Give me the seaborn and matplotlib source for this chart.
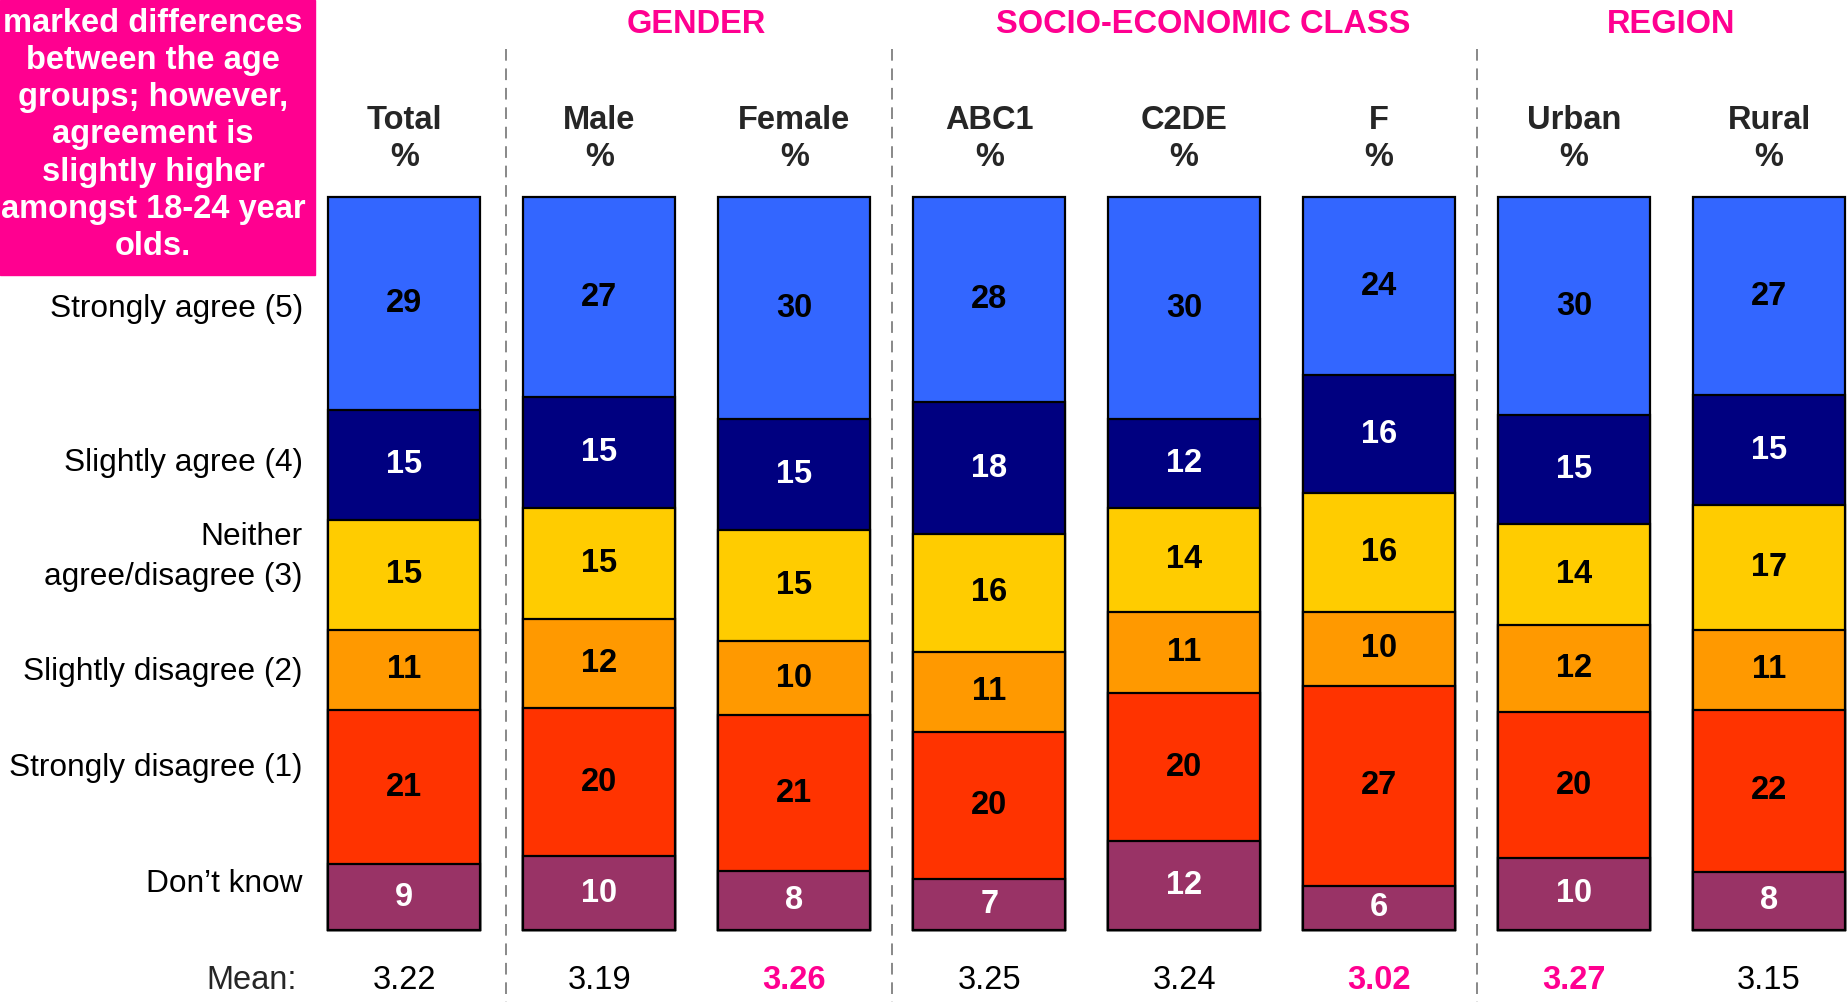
import numpy as np
import pandas as pd
import matplotlib
matplotlib.use("Agg")
import matplotlib.pyplot as plt
import seaborn as sns

# ---- data -------------------------------------------------------------
columns = ["Total", "Male", "Female", "ABC1", "C2DE", "F", "Urban", "Rural"]
groups = ["GENDER", "SOCIO-ECONOMIC CLASS", "REGION"]

# bottom to top
answers = ["Don\u2019t know", "Strongly disagree (1)", "Slightly disagree (2)",
           "Neither\nagree/disagree (3)", "Slightly agree (4)", "Strongly agree (5)"]
dont_know = [9, 10, 8, 7, 12, 6, 10, 8]
strongly_disagree = [21, 20, 21, 20, 20, 27, 20, 22]
slightly_disagree = [11, 12, 10, 11, 11, 10, 12, 11]
neither = [15, 15, 15, 16, 14, 16, 14, 17]
slightly_agree = [15, 15, 15, 18, 12, 16, 15, 15]
strongly_agree = [29, 27, 30, 28, 30, 24, 30, 27]

means = ["3.22", "3.19", "3.26", "3.25", "3.24", "3.02", "3.27", "3.15"]
mean_highlight = [False, False, True, False, False, True, True, False]

note = ("marked differences\nbetween the age\ngroups; however,\nagreement is\n"
        "slightly higher\namongst 18-24 year\nolds.")

# ---- styling ----------------------------------------------------------
seg_colors = ["#993366", "#FF3300", "#FF9900", "#FFCC00", "#000080", "#3366FF"]
txt_colors = ["white", "black", "black", "black", "white", "black"]
PINK = "#FF0090"
FS = 23.5

sns.set_style("white")
plt.rcParams["font.family"] = ["Liberation Sans", "DejaVu Sans"]

segments = np.array([dont_know, strongly_disagree, slightly_disagree,
                     neither, slightly_agree, strongly_agree], dtype=float)
shares = segments / segments.sum(axis=0) * 100
cum = np.cumsum(shares, axis=0)

fig = plt.figure(figsize=(18.48, 10.02), dpi=100)
ax = fig.add_axes([0, 0, 1, 1])

# stacked bars: draw cumulative totals from the top layer down
for k in range(len(answers) - 1, -1, -1):
    df = pd.DataFrame({"col": columns, "cum": cum[k]})
    sns.barplot(data=df, x="col", y="cum", order=columns, color=seg_colors[k],
                saturation=1, edgecolor="black", linewidth=1.6, width=0.78,
                ax=ax)

# value labels
for k in range(len(answers)):
    for i in range(len(columns)):
        mid = cum[k, i] - shares[k, i] / 2
        ax.text(i, mid, str(int(segments[k, i])), ha="center", va="center",
                fontsize=FS, fontweight="bold", color=txt_colors[k])

# row labels on the left
label_y = [6.3, 22.1, 35.2, 50.9, 63.8, 84.7]
for lab, y in zip(answers, label_y):
    ax.text(-0.52, y, lab, ha="right", va="center", fontsize=22.8,
            linespacing=1.4, color="black")

# column headers
for i, c in enumerate(columns):
    ax.text(i, 110.4, c, ha="center", va="center", fontsize=FS,
            fontweight="bold")
    ax.text(i, 105.4, "%", ha="center", va="center", fontsize=FS,
            fontweight="bold")

# group headers
group_x = [1.5, 4.1, 6.5]
for g, gx in zip(groups, group_x):
    ax.text(gx, 123.6, g, ha="center", va="center", fontsize=FS,
            fontweight="bold", color=PINK)

# dashed separators
for sx in [0.52, 2.5, 5.5]:
    ax.plot([sx, sx], [120.2, -12], color="#888888", lw=1.4,
            linestyle=(0, (6, 4)))

# mean row
ax.text(-0.55, -6.8, "Mean:", ha="right", va="center", fontsize=FS)
for i, (m, h) in enumerate(zip(means, mean_highlight)):
    ax.text(i, -6.8, m, ha="center", va="center", fontsize=FS,
            color=PINK if h else "black", fontweight="bold" if h else "normal")

# pink note box in the corner
fig.patches.append(plt.Rectangle((0, 1 - 275 / 1002), 315 / 1848, 275 / 1002,
                                 transform=fig.transFigure, color=PINK,
                                 zorder=5))
fig.text(153 / 1848, 1 - 135 / 1002, note, ha="center", va="center",
         fontsize=FS, fontweight="bold", color="white", linespacing=1.26,
         zorder=6)

ax.set_xlim(-2.074, 7.405)
ax.set_ylim(-9.8, 126.9)
ax.axis("off")

plt.savefig("out.png", dpi=100)
